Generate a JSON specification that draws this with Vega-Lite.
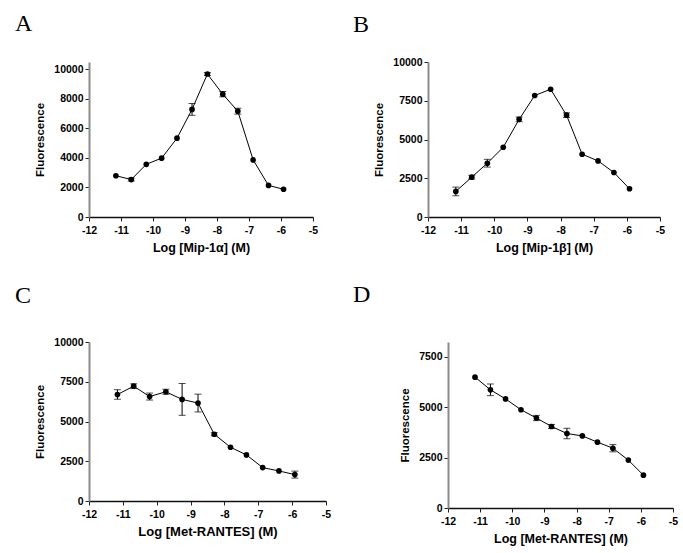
{
  "$schema": "https://vega.github.io/schema/vega-lite/v6.json",
  "padding": {"left": 15, "top": 12, "right": 5, "bottom": 5},
  "background": "white",
  "datasets": {
    "A": [
      {"logc": -11.16, "f": 2790, "err": 0},
      {"logc": -10.68, "f": 2530, "err": 100},
      {"logc": -10.21, "f": 3560, "err": 0},
      {"logc": -9.73, "f": 3975, "err": 0},
      {"logc": -9.25, "f": 5325, "err": 0},
      {"logc": -8.78, "f": 7270, "err": 400},
      {"logc": -8.30, "f": 9660, "err": 100},
      {"logc": -7.82, "f": 8300, "err": 180},
      {"logc": -7.35, "f": 7150, "err": 200},
      {"logc": -6.87, "f": 3855, "err": 0},
      {"logc": -6.39, "f": 2135, "err": 0},
      {"logc": -5.92, "f": 1875, "err": 0}
    ],
    "B": [
      {"logc": -11.16, "f": 1650, "err": 280},
      {"logc": -10.68, "f": 2570, "err": 120},
      {"logc": -10.21, "f": 3470, "err": 250},
      {"logc": -9.73, "f": 4500, "err": 0},
      {"logc": -9.25, "f": 6300, "err": 150},
      {"logc": -8.78, "f": 7840, "err": 0},
      {"logc": -8.30, "f": 8240, "err": 0},
      {"logc": -7.82, "f": 6570, "err": 150},
      {"logc": -7.35, "f": 4050, "err": 0},
      {"logc": -6.87, "f": 3620, "err": 0},
      {"logc": -6.39, "f": 2870, "err": 0},
      {"logc": -5.92, "f": 1820, "err": 0}
    ],
    "C": [
      {"logc": -11.16, "f": 6700, "err": 300},
      {"logc": -10.68, "f": 7220, "err": 150},
      {"logc": -10.21, "f": 6570, "err": 220},
      {"logc": -9.73, "f": 6870, "err": 160},
      {"logc": -9.25, "f": 6390, "err": 1000},
      {"logc": -8.78, "f": 6160, "err": 560},
      {"logc": -8.30, "f": 4200, "err": 100},
      {"logc": -7.82, "f": 3380, "err": 0},
      {"logc": -7.35, "f": 2900, "err": 0},
      {"logc": -6.87, "f": 2100, "err": 0},
      {"logc": -6.39, "f": 1890, "err": 0},
      {"logc": -5.92, "f": 1660, "err": 220}
    ],
    "D": [
      {"logc": -11.16, "f": 6500, "err": 0},
      {"logc": -10.68, "f": 5870, "err": 290},
      {"logc": -10.21, "f": 5420, "err": 0},
      {"logc": -9.73, "f": 4880, "err": 0},
      {"logc": -9.25, "f": 4470, "err": 130},
      {"logc": -8.78, "f": 4050, "err": 100},
      {"logc": -8.30, "f": 3700, "err": 260},
      {"logc": -7.82, "f": 3580, "err": 0},
      {"logc": -7.35, "f": 3270, "err": 0},
      {"logc": -6.87, "f": 2970, "err": 180},
      {"logc": -6.39, "f": 2380, "err": 0},
      {"logc": -5.92, "f": 1630, "err": 0}
    ]
  },
  "spacing": 29,
  "vconcat": [
    {
      "spacing": 35,
      "hconcat": [
        {
          "width": 224, "height": 155,
          "title": {"text": "A", "anchor": "start", "frame": "group", "dx": -74, "offset": 7, "baseline": "alphabetic", "font": "Liberation Serif", "fontSize": 24, "fontWeight": "normal", "color": "black"},
          "data": {"name": "A"},
          "encoding": {
            "x": {"field": "logc", "type": "quantitative", "scale": {"domain": [-12, -5], "nice": false, "zero": false}, "axis": {"title": "Log [Mip-1α] (M)", "values": [-12, -11, -10, -9, -8, -7, -6, -5], "labelExpr": "'' + datum.value"}},
            "y": {"field": "f", "type": "quantitative", "scale": {"domain": [0, 10473], "nice": false}, "axis": {"title": "Fluorescence", "values": [0, 2000, 4000, 6000, 8000, 10000], "labelExpr": "'' + datum.value"}}
          },
          "layer": [
            {"mark": {"type": "line", "color": "black", "strokeWidth": 1}},
            {"transform": [{"filter": "datum.err > 0"}], "mark": {"type": "errorbar", "color": "black", "thickness": 1, "ticks": {"size": 7, "color": "black"}}, "encoding": {"yError": {"field": "err"}}},
            {"mark": {"type": "point", "shape": "circle", "filled": true, "size": 32, "color": "black", "opacity": 1}}
          ]
        },
        {
          "width": 232, "height": 155,
          "title": {"text": "B", "anchor": "start", "frame": "group", "dx": -75, "offset": 1, "baseline": "alphabetic", "font": "Liberation Serif", "fontSize": 24, "fontWeight": "normal", "color": "black"},
          "data": {"name": "B"},
          "encoding": {
            "x": {"field": "logc", "type": "quantitative", "scale": {"domain": [-12, -5], "nice": false, "zero": false}, "axis": {"title": "Log [Mip-1β] (M)", "values": [-12, -11, -10, -9, -8, -7, -6, -5], "labelExpr": "'' + datum.value"}},
            "y": {"field": "f", "type": "quantitative", "scale": {"domain": [0, 10000], "nice": false}, "axis": {"title": "Fluorescence", "values": [0, 2500, 5000, 7500, 10000], "labelExpr": "'' + datum.value"}}
          },
          "layer": [
            {"mark": {"type": "line", "color": "black", "strokeWidth": 1}},
            {"transform": [{"filter": "datum.err > 0"}], "mark": {"type": "errorbar", "color": "black", "thickness": 1, "ticks": {"size": 7, "color": "black"}}, "encoding": {"yError": {"field": "err"}}},
            {"mark": {"type": "point", "shape": "circle", "filled": true, "size": 32, "color": "black", "opacity": 1}}
          ]
        }
      ]
    },
    {
      "spacing": 22,
      "hconcat": [
        {
          "width": 237, "height": 159,
          "title": {"text": "C", "anchor": "start", "frame": "group", "dx": -74, "offset": 10, "baseline": "alphabetic", "font": "Liberation Serif", "fontSize": 24, "fontWeight": "normal", "color": "black"},
          "data": {"name": "C"},
          "encoding": {
            "x": {"field": "logc", "type": "quantitative", "scale": {"domain": [-12, -5], "nice": false, "zero": false}, "axis": {"title": "Log [Met-RANTES] (M)", "titleFontSize": 13, "values": [-12, -11, -10, -9, -8, -7, -6, -5], "labelExpr": "'' + datum.value"}},
            "y": {"field": "f", "type": "quantitative", "scale": {"domain": [0, 10000], "nice": false}, "axis": {"title": "Fluorescence", "values": [0, 2500, 5000, 7500, 10000], "labelExpr": "'' + datum.value"}}
          },
          "layer": [
            {"mark": {"type": "line", "color": "black", "strokeWidth": 1}},
            {"transform": [{"filter": "datum.err > 0"}], "mark": {"type": "errorbar", "color": "black", "thickness": 1, "ticks": {"size": 7, "color": "black"}}, "encoding": {"yError": {"field": "err"}}},
            {"mark": {"type": "point", "shape": "circle", "filled": true, "size": 32, "color": "black", "opacity": 1}}
          ]
        },
        {
          "width": 225, "height": 166,
          "title": {"text": "D", "anchor": "start", "frame": "group", "dx": -95, "offset": 16, "baseline": "alphabetic", "font": "Liberation Serif", "fontSize": 24, "fontWeight": "normal", "color": "black"},
          "data": {"name": "D"},
          "encoding": {
            "x": {"field": "logc", "type": "quantitative", "scale": {"domain": [-12, -5], "nice": false, "zero": false}, "axis": {"title": "Log [Met-RANTES] (M)", "values": [-12, -11, -10, -9, -8, -7, -6, -5], "labelExpr": "'' + datum.value"}},
            "y": {"field": "f", "type": "quantitative", "scale": {"domain": [0, 8245], "nice": false}, "axis": {"title": "Fluorescence", "values": [0, 2500, 5000, 7500], "labelExpr": "'' + datum.value"}}
          },
          "layer": [
            {"mark": {"type": "line", "color": "black", "strokeWidth": 1}},
            {"transform": [{"filter": "datum.err > 0"}], "mark": {"type": "errorbar", "color": "black", "thickness": 1, "ticks": {"size": 7, "color": "black"}}, "encoding": {"yError": {"field": "err"}}},
            {"mark": {"type": "point", "shape": "circle", "filled": true, "size": 32, "color": "black", "opacity": 1}}
          ]
        }
      ]
    }
  ],
  "config": {
    "view": {"stroke": null},
    "font": "Liberation Sans",
    "axis": {
      "grid": false,
      "labelFont": "Liberation Sans", "labelFontWeight": "bold", "labelFontSize": 10.5, "labelColor": "black",
      "titleFont": "Liberation Sans", "titleFontWeight": "bold", "titleColor": "black",
      "tickColor": "#222", "tickSize": 4
    },
    "axisX": {"domainColor": "#111", "domainWidth": 1.5, "titleFontSize": 12.5, "titlePadding": 6, "labelPadding": 4, "labelFlush": false, "labelOverlap": false},
    "axisY": {"domainColor": "#8a8a8a", "domainWidth": 2, "titleFontSize": 11.5, "titlePadding": 8, "labelPadding": 2, "labelOverlap": false}
  }
}
